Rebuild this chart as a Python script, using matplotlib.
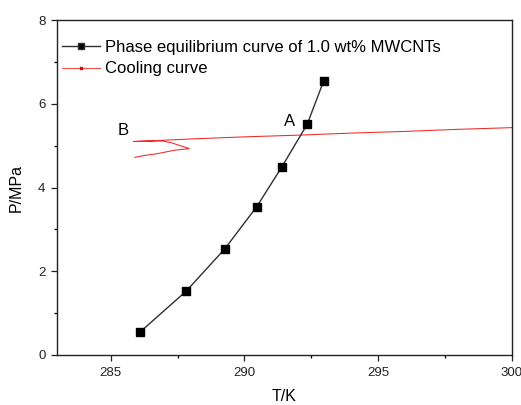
import matplotlib
matplotlib.use("Agg")
import matplotlib.pyplot as plt
from matplotlib.lines import Line2D
from matplotlib.ticker import MultipleLocator

plt.rcParams['font.family'] = ['Liberation Sans', 'DejaVu Sans']

# Phase equilibrium data
eq_T = [286.1, 287.83, 289.26, 290.46, 291.39, 292.35, 292.97]
eq_P = [0.55, 1.53, 2.53, 3.54, 4.48, 5.51, 6.55]

# Cooling curve (time order: cooling from right to left, then hydrate formation loop)
cool_T = [300.0, 298.0, 296.0, 294.0, 292.0, 290.0, 288.0, 287.0, 286.4, 285.86,
          286.4, 286.94, 287.26, 287.6, 287.94, 287.38, 286.76, 286.3, 285.9]
cool_P = [5.43, 5.39, 5.34, 5.30, 5.25, 5.21, 5.16, 5.13, 5.11, 5.10,
          5.11, 5.11, 5.07, 5.00, 4.93, 4.89, 4.81, 4.77, 4.72]

xlim = (283, 300)
ylim = (0, 8)

fig = plt.figure(figsize=(5.21, 4.05), dpi=100)
ax = fig.add_axes([0.110, 0.1235, 0.872, 0.827])

ax.plot(cool_T, cool_P, color='#f02828', lw=0.75, zorder=2)
ax.plot(eq_T, eq_P, color='#303030', lw=1.0, marker='s', markersize=5.6,
        markerfacecolor='black', markeredgecolor='black', zorder=3)

ax.set_xlim(*xlim)
ax.set_ylim(*ylim)
ax.xaxis.set_major_locator(MultipleLocator(5))
ax.xaxis.set_minor_locator(MultipleLocator(2.5))
ax.yaxis.set_major_locator(MultipleLocator(2))
ax.yaxis.set_minor_locator(MultipleLocator(1))
ax.tick_params(which='major', direction='out', length=4.5, width=0.9, labelsize=9.5,
               colors='#222222', pad=4)
ax.tick_params(which='minor', direction='out', length=2.5, width=0.9)
for s in ax.spines.values():
    s.set_linewidth(1.0)
    s.set_color('#222222')

ax.set_xlabel('T/K', fontsize=11.5, labelpad=7)
ax.set_ylabel('P/MPa', fontsize=11.5, labelpad=10)

ax.text(291.69, 5.57, 'A', fontsize=12, ha='center', va='center')
ax.text(285.45, 5.37, 'B', fontsize=12, ha='center', va='center')

handles = [
    Line2D([], [], color='#303030', lw=1.0, marker='s', markersize=4.2,
           markerfacecolor='black'),
    Line2D([], [], color='#f05050', lw=0.8, marker='s', markersize=1.8,
           markerfacecolor='#e00000', markeredgecolor='#e00000'),
]
labels = ['Phase equilibrium curve of 1.0 wt% MWCNTs', 'Cooling curve']
ax.legend(handles, labels, loc='upper left', bbox_to_anchor=(-0.012, 0.97),
          frameon=False, fontsize=12, handlelength=2.3, handletextpad=0.3,
          labelspacing=0.38, borderaxespad=0.2)

fig.savefig('out.png', dpi=100)
